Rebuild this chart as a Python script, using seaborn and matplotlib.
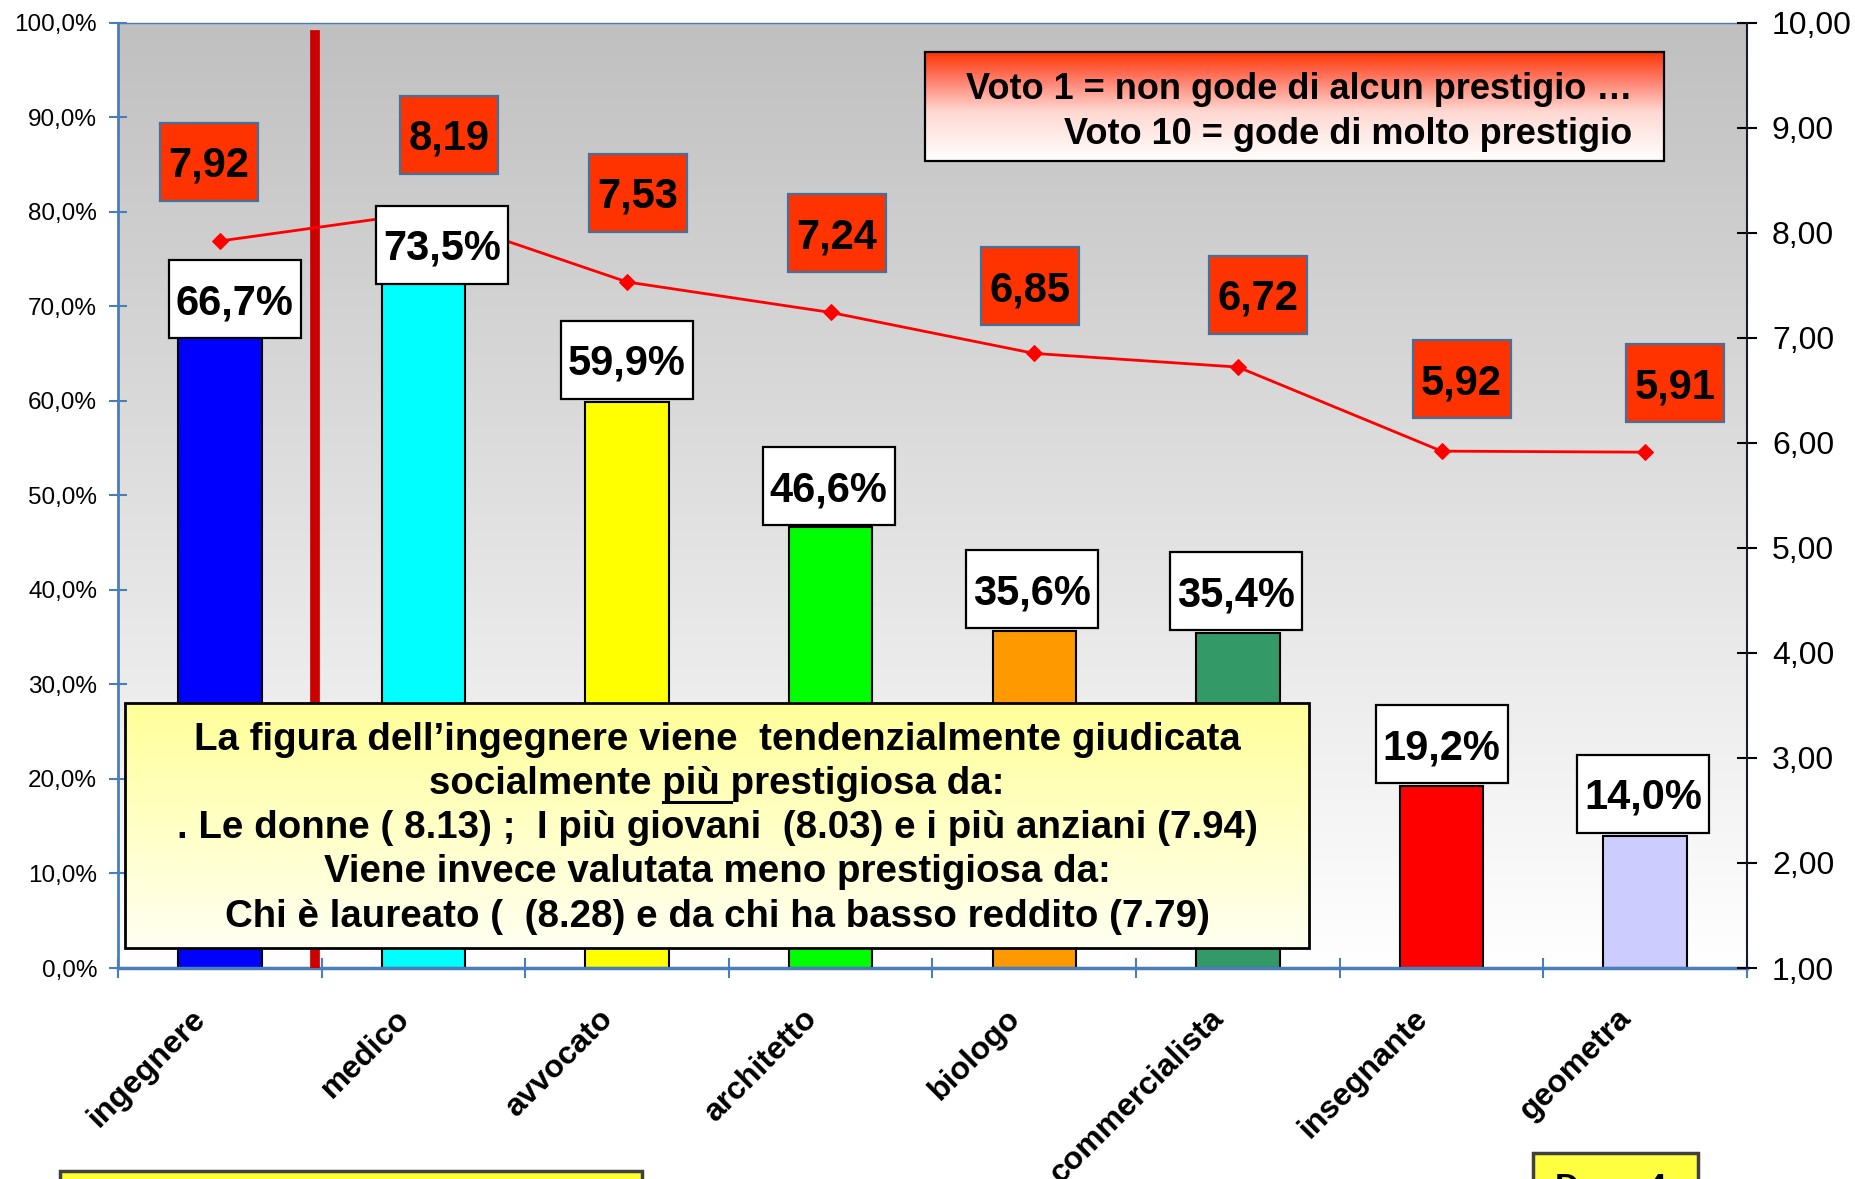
import numpy as np
import pandas as pd
import matplotlib
matplotlib.use("Agg")
import matplotlib.pyplot as plt
import seaborn as sns
from matplotlib.patches import Rectangle
from matplotlib.transforms import IdentityTransform, ScaledTranslation
from matplotlib.colors import LinearSegmentedColormap
from matplotlib.lines import Line2D

# ---------------- data ----------------
categories = ["ingegnere", "medico", "avvocato", "architetto", "biologo",
              "commercialista", "insegnante", "geometra"]
pct_values = [66.7, 73.5, 59.9, 46.6, 35.6, 35.4, 19.2, 14.0]
score_values = [7.92, 8.19, 7.53, 7.24, 6.85, 6.72, 5.92, 5.91]
bar_colors = ["#0000FF", "#00FFFF", "#FFFF00", "#00FF00", "#FF9900",
              "#339966", "#FF0000", "#CCCCFF"]
pct_ticks = [0, 10, 20, 30, 40, 50, 60, 70, 80, 90, 100]
score_ticks = [1, 2, 3, 4, 5, 6, 7, 8, 9, 10]

legend_lines = ["Voto 1 = non gode di alcun prestigio …",
                "Voto 10 = gode di molto prestigio"]
note_lines = ["La figura dell’ingegnere viene  tendenzialmente giudicata",
              "socialmente più prestigiosa da:",
              ". Le donne ( 8.13) ;  I più giovani  (8.03) e i più anziani (7.94)",
              "Viene invece valutata meno prestigiosa da:",
              "Chi è laureato (  (8.28) e da chi ha basso reddito (7.79)"]
corner_label = "Dom. 4"

# ---------------- layout (pixel offsets of the label boxes) ----------------
score_dx = [-11, 26, 11, 6, -4, 20, 20, 30]
score_dy = [79, 78, 89, 79, 67, 72, 72, 69]
pct_dx = [15, 19, 0, -2, -2, -2, 0, -2]
pct_dy = [38, 28, 42, 41, 42, 42, 42, 42]

plt.rcParams["font.family"] = ["Liberation Sans", "DejaVu Sans"]

W, H = 1855, 1179
fig = plt.figure(figsize=(W / 100, H / 100), dpi=100)
fig.patch.set_facecolor("white")

ax = fig.add_axes([118 / W, (H - 968) / H, (1747 - 118) / W, (968 - 22.5) / H])

# plot-area gradient background
bg_cmap = LinearSegmentedColormap.from_list("bg", ["#FFFFFF", "#C0C0C0"])
ax.imshow(np.linspace(0, 1, 256).reshape(-1, 1), cmap=bg_cmap,
          extent=[-0.5, 7.5, 0, 100], origin="lower", aspect="auto", zorder=0)

df = pd.DataFrame({"professione": categories, "percentuale": pct_values})
sns.barplot(data=df, x="professione", y="percentuale", hue="professione",
            palette=bar_colors, saturation=1, width=0.41, edgecolor="black",
            linewidth=1.5, errorbar=None, legend=False, ax=ax, zorder=2)

ax.axvline(0.467, 0, 0.987, color="#CC0000", lw=7, zorder=3)

ax.set_xlim(-0.5, 7.5)
ax.set_ylim(0, 100)
ax.set_xlabel("")
ax.set_ylabel("")
ax.set_xticks(range(len(categories)))
ax.set_xticklabels(categories, rotation=45, ha="right", va="top",
                   rotation_mode="anchor", fontsize=23, fontweight="bold")
ax.set_xticks(np.arange(-0.5, len(categories) + 0.5, 1), minor=True)
ax.tick_params(axis="x", which="major", length=0, pad=25.5, bottom=True)
ax.tick_params(axis="x", which="minor", direction="inout", length=15,
               width=1.5, color="#4A7EBB", bottom=True)
for lbl in ax.get_xticklabels():
    lbl.set_transform(lbl.get_transform() +
                      ScaledTranslation(-29 / 100, 0, fig.dpi_scale_trans))
ax.set_yticks(pct_ticks)
ax.set_yticklabels([f"{v:.1f}%".replace(".", ",") for v in pct_ticks])
ax.tick_params(axis="y", direction="inout", length=13, width=1.5,
               color="#4A7EBB", labelsize=17.5, pad=8.5, left=True)
ax.spines["left"].set_color("#4A7EBB")
ax.spines["left"].set_linewidth(2)
ax.spines["bottom"].set_color("#4A7EBB")
ax.spines["bottom"].set_linewidth(2.5)
ax.spines["top"].set_color("#4A7EBB")
ax.spines["top"].set_linewidth(1)
ax.spines["right"].set_visible(False)

ax2 = ax.twinx()
sns.lineplot(x=np.arange(len(categories)), y=score_values, ax=ax2,
             color="#FF0000", linewidth=2, marker="D", markersize=8,
             markeredgecolor="#FF0000", zorder=3)
ax2.set_ylim(1, 10)
ax2.set_yticks(score_ticks)
ax2.set_yticklabels([f"{v:.2f}".replace(".", ",") for v in score_ticks])
ax2.set_ylabel("")
ax2.tick_params(axis="y", direction="inout", length=15, width=1.5,
                color="black", labelsize=23, pad=10.5)
for s in ["left", "top", "bottom"]:
    ax2.spines[s].set_visible(False)
ax2.spines["right"].set_color("#1A1A2E")
ax2.spines["right"].set_linewidth(1.5)

IDT = IdentityTransform()


def value_box(cx, cy, w, h, text, fc, ec, fs):
    fig.add_artist(Rectangle((cx - w / 2, cy - h / 2), w, h, transform=IDT,
                             facecolor=fc, edgecolor=ec, lw=1.6, zorder=4))
    cap = 0.716 * fs * 100 / 72
    fig.text(cx, cy - cap / 2, text, transform=IDT, ha="center",
             va="baseline", fontsize=fs, fontweight="bold", zorder=5)


for i, v in enumerate(pct_values):
    px, py = ax.transData.transform((i, v))
    value_box(px + pct_dx[i], py + pct_dy[i], 132, 78,
              f"{v:.1f}%".replace(".", ","), "white", "black", 30)

for i, v in enumerate(score_values):
    px, py = ax2.transData.transform((i, v))
    value_box(px + score_dx[i], py + score_dy[i], 98, 78,
              f"{v:.2f}".replace(".", ","), "#FF3300", "#41719C", 30)


def grad_box(x0, y0_img, x1, y1_img, colors, lw, ec):
    bax = fig.add_axes([x0 / W, (H - y1_img) / H, (x1 - x0) / W,
                        (y1_img - y0_img) / H], zorder=5)
    cmap = LinearSegmentedColormap.from_list("g", colors)
    bax.imshow(np.linspace(0, 1, 256).reshape(-1, 1), cmap=cmap,
               extent=[0, 1, 0, 1], origin="lower", aspect="auto")
    bax.set_xlim(0, 1)
    bax.set_ylim(0, 1)
    bax.axis("off")
    bax.add_patch(Rectangle((0, 0), 1, 1, transform=bax.transAxes, fill=False,
                            ec=ec, lw=lw, clip_on=False))
    return bax


grad_box(925, 52, 1664, 161,
         [(0, "#FFFFFF"), (0.45, "#FFD8D2"), (0.75, "#FF7A66"), (1, "#FF3300")],
         1.6, "black")
grad_box(125, 703, 1309, 948, ["#FFFFF2", "#FFFF99"], 2, "black")

renderer = fig.canvas.get_renderer()

# legend texts
leg_base = [99, 144]
leg_texts = []
for line, b in zip(legend_lines, leg_base):
    leg_texts.append(fig.text(1632, H - b, line, transform=IDT, ha="right",
                              va="baseline", fontsize=25, fontweight="bold",
                              zorder=7))
wl = leg_texts[0].get_window_extent(renderer).width
fs_leg = 25 * 666 / wl
for t in leg_texts:
    t.set_fontsize(fs_leg)

# note texts
note_base = [750, 794, 838.5, 882.5, 927]
note_texts = []
for line, b in zip(note_lines, note_base):
    note_texts.append(fig.text(717, H - b, line, transform=IDT, ha="center",
                               va="baseline", fontsize=22, fontweight="bold",
                               zorder=7))
wn = note_texts[2].get_window_extent(renderer).width
fs_note = 22 * 1079 / wn
for t in note_texts:
    t.set_fontsize(fs_note)

# underline "più " in the second line
prop = note_texts[1].get_fontproperties()


def tw(s):
    return renderer.get_text_width_height_descent(s, prop, ismath=False)[0]


line2 = note_lines[1]
full_w = tw(line2)
start = 717 - full_w / 2
p0 = start + full_w - tw("più prestigiosa da:")
p1 = start + full_w - tw("prestigiosa da:")
fig.add_artist(Line2D([p0, p1], [H - 802, H - 802], transform=IDT,
                      color="black", lw=2.2, zorder=8))

# partially visible boxes at the bottom edge
fig.add_artist(Rectangle((60, -20), 582, 28, transform=IDT, facecolor="#FFFF33",
                         edgecolor="#404040", lw=2.5, zorder=4))
fig.add_artist(Rectangle((1533, -20), 165, 46, transform=IDT, facecolor="#FFFF40",
                         edgecolor="#404040", lw=2.5, zorder=4))
fig.text(1555, 6 - 0.716 * 24 * 100 / 72, corner_label, transform=IDT,
         ha="left", va="baseline", fontsize=24, fontweight="bold", zorder=5)

fig.savefig("out.png", dpi=100)
